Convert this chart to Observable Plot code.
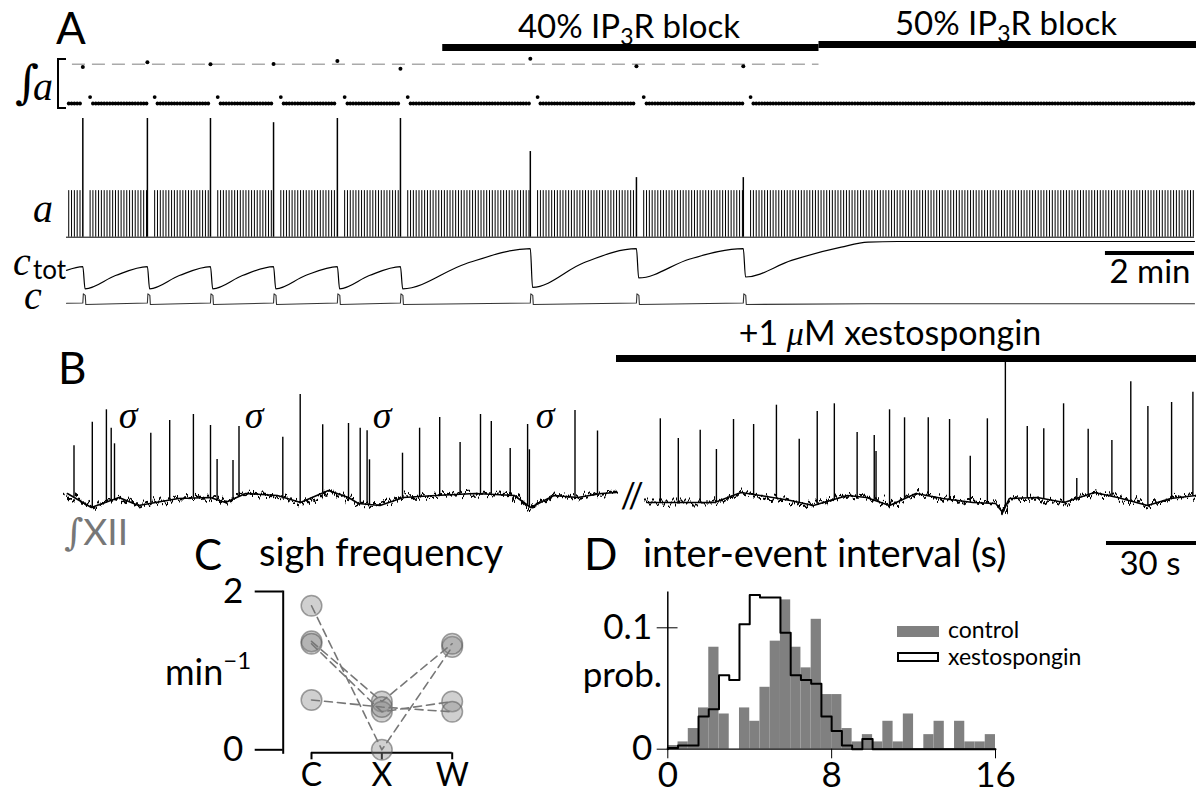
<!DOCTYPE html>
<html><head><meta charset="utf-8">
<script src="https://cdn.jsdelivr.net/npm/d3@7"></script>
<script src="https://cdn.jsdelivr.net/npm/@observablehq/plot@0.6"></script>
<style>
body{margin:0;background:white;}
#fig{position:relative;width:1196px;height:797px;background:white;font-family:Lato,"Noto Sans",sans-serif;overflow:hidden;}
#fig svg{position:absolute;}
</style></head><body><div id="fig"></div>
<svg width="1" height="1" style="position:absolute;left:0;top:0"><defs>
<filter id="jitter" filterUnits="userSpaceOnUse" x="-10" y="-10" width="1220" height="200" color-interpolation-filters="sRGB">
<feTurbulence type="fractalNoise" baseFrequency="0.35 0.03" numOctaves="3" seed="7" result="n"/>
<feDisplacementMap in="SourceGraphic" in2="n" scale="16" xChannelSelector="R" yChannelSelector="G"/>
</filter></defs></svg>
<script>
// ---------------- Panel A (model) ----------------
const durationA = 1520;                    // seconds shown
const sighTimesA = [22, 109, 194, 279, 365, 450, 625, 768, 912];
const sighAmpA   = [2.55, 2.55, 2.55, 2.46, 2.55, 2.55, 1.84, 1.28, 1.28];
const sighIntA   = [1.91, 2.03, 1.98, 1.99, 2.06, 1.87, 2.12, 1.93, 1.93];
const sighRefIntA = 1.98;
const refLineA = [8, 1014];
const eupneaPeriodA = 3.8, eupneaPauseA = 9.8, eupneaFirstA = 3;
const eupneaAmpA = 1.0, eupneaIntA = 1.0, postSighIntA = 1.16;
const blocksA = [{label: "40%", start: 507, end: 1014}, {label: "50%", start: 1014, end: 1523}];
const ctotA = [
 [0,0.39],[22,0.47],[25,0],
 [66,0.28],[109,0.47],[112,0],
 [152,0.28],[194,0.47],[197,0],
 [237,0.28],[279,0.47],[282,0],
 [322,0.28],[365,0.47],[368,0],
 [408,0.28],[450,0.47],[453,0],
 [538,0.53],[625,0.85],[628,0.03],
 [697,0.55],[768,0.85],[771,0.23],
 [840,0.63],[912,0.85],[915,0.25],
 [977,0.60],[1044,0.88],[1080,0.985],[1120,1.0],[1520,1.0]
];
const cStartA = [0, 0.12];
const cPulseA = [[0,0.14],[0.7,1.0],[3.3,0.85],[4,0]];
const cTailA = [[1080,0.07],[1520,0.07]];
const scaleBarA = {start: 1400, end: 1520};   // 2 min

// ---------------- Panel B (recording) ----------------
const spikesBLeft = [
 [2.5,0.547],[8.6,0.783],[13.3,0.907],[14.9,0.723],[16.0,0.567],[28.1,0.673],[34.4,0.80],
 [42.3,0.86],[48.0,0.75],[50.2,0.41],[55.5,0.40],[57.5,0.74],[72.1,0.633],[77.9,1.06],
 [85.4,0.757],[94.0,0.77],[97.9,0.723],[100.2,0.697],[101.0,0.407],[112.0,0.473],[117.7,0.723],
 [124.4,0.83],[131.2,0.58],[138.0,0.86],[141.6,0.79],[147.9,0.52],[153.7,0.76],[154.3,0.507],
 [169.5,0.90],[177.0,0.695]
];
const baselineBLeft = [
 [0.3,0.07],[8.3,-0.07],[17.5,0.03],[24,-0.05],[37.3,0.02],[47.9,0.03],[53,-0.02],[59.7,0.07],
 [70.3,0.05],[78,-0.02],[87.3,0.10],[94,0.03],[97.3,-0.03],[104.5,-0.05],[112.3,0.03],[123,0.05],
 [136.2,0.07],[149.3,0.05],[154.7,-0.07],[162.5,0.05],[170.4,0.03],[178.3,0.07],[183.3,0.08]
];
const spikesBRight = [
 [4.6,0.817],[10.6,0.62],[17.9,0.703],[23.3,0.51],[29.0,0.81],[35.7,0.76],[43.3,0.953],
 [50.9,0.613],[56.9,0.89],[62.6,0.967],[70.2,0.68],[75.9,0.65],[76.5,0.49],[81.0,0.907],
 [86.0,0.827],[93.9,0.827],[101.0,0.81],[107.9,0.443],[113.6,0.817],[119.6,1.383],[126.9,0.74],
 [132.4,0.717],[139.0,0.967],[143.4,0.22],[147.2,0.713],[155.1,0.60],[161.4,1.187],[167.1,0.94],
 [175.0,0.98],[182.1,1.083]
];
const baselineBRight = [
 [0.1,-0.02],[10,-0.02],[22.7,-0.02],[31.5,0.08],[37.9,0.05],[48,0],[55.6,-0.05],[67,0.05],
 [73.3,0.03],[81,-0.05],[89.8,0.07],[98.7,0.02],[108.8,-0.02],[116.4,-0.03],[118.7,-0.12],
 [120.9,0.02],[130.3,0.03],[139.2,-0.02],[149.3,0.08],[157,0.03],[167,-0.05],[174.7,0.02],[183.3,0.05]
];
const durationBLeft = 184, durationBRight = 183.3;
const xestoBarB = {start: -10, end: 183.3};
const scaleBarB = {start: 153.3, end: 183.3};   // 30 s

// ---------------- Panel C ----------------
const catsC = ["C", "X", "W"];
const sighFreqControl = [1.82, 1.37, 1.34, 0.63];
const sighFreqXesto   = [0.0, 0.61, 0.48, 0.54];
const sighFreqWash    = [1.30, 1.34, 0.61, 0.48];

// ---------------- Panel D ----------------
const binWidthD = 0.5;
const controlProbD = [0.003,0.006,0.017,0.034,0.084,0.029,0,0.034,0.023,0.051,0.089,0.123,0.084,0.067,0.107,0.045,
                      0.045,0.017,0.006,0.012,0.006,0.023,0.006,0.029,0,0.012,0.023,0,0.023,0.006,0.006,0.012];
const xestoProbD   = [0.001,0.003,0.003,0.027,0.033,0.061,0.057,0.103,0.127,0.125,0.125,0.096,0.061,0.057,0.054,0.027,
                      0.015,0.003,0,0.0085,0,0,0,0,0,0,0,0,0,0,0,0];

// ================= build =================
const fig = document.getElementById("fig");
const FONT = "Lato, 'Noto Sans', sans-serif";
function addPlot(opts, left, top) {
  const el = Plot.plot({style: {background: "transparent", overflow: "visible", fontFamily: FONT}, ...opts});
  el.style.position = "absolute"; el.style.left = left + "px"; el.style.top = top + "px";
  fig.append(el); return el;
}

// derived burst list for panel A
const sighsA = sighTimesA.map((t, i) => ({t, amp: sighAmpA[i], int: sighIntA[i]}));
const segStarts = [eupneaFirstA, ...sighTimesA.map(s => s + eupneaPauseA)];
const segEnds = [...sighTimesA.map(s => s - 1), durationA];
const eupneaA = [];
segStarts.forEach((s, k) => {
  for (let t = s, j = 0; t < segEnds[k]; t += eupneaPeriodA, j++)
    eupneaA.push({t, amp: eupneaAmpA, int: (j === 0 && k > 0) ? postSighIntA : eupneaIntA});
});
const cA = [cStartA];
sighTimesA.forEach(s => cPulseA.forEach(([dt, v]) => cA.push([s + dt, v])));
cTailA.forEach(p => cA.push(p));

const xA = {domain: [0, durationA], axis: null};
const baseA = {width: 1196, marginLeft: 66, marginRight: 2, x: xA};
const noY = d => ({domain: d, axis: null});

// block bars
addPlot({...baseA, height: 7, marginTop: 0, marginBottom: 0,
  marks: [Plot.rect([blocksA[0]], {x1: "start", x2: "end", fill: "black"})]}, 0, 44);
addPlot({...baseA, height: 7, marginTop: 0, marginBottom: 0,
  marks: [Plot.rect([blocksA[1]], {x1: "start", x2: "end", fill: "black"})]}, 0, 41);

// integrated a
addPlot({...baseA, height: 65, marginTop: 13, marginBottom: 12, y: noY([1, 2]),
  marks: [
    Plot.ruleY([sighRefIntA], {x1: refLineA[0], x2: refLineA[1], stroke: "#aaa", strokeWidth: 1.5, strokeDasharray: "13,7"}),
    Plot.dot(eupneaA, {x: "t", y: "int", r: 1.9, fill: "black", stroke: "none"}),
    Plot.dot(sighsA, {x: "t", y: "int", r: 2, fill: "black", stroke: "none"})
  ]}, 0, 50);

// activity a
addPlot({...baseA, height: 130, marginTop: 8, marginBottom: 3.3, y: noY([0, 2.55]),
  marks: [
    Plot.ruleY([0], {strokeWidth: 1}),
    Plot.ruleX(eupneaA, {x: "t", y1: 0, y2: "amp", strokeWidth: 1}),
    Plot.ruleX(sighsA, {x: "t", y1: 0, y2: "amp", strokeWidth: 1.5})
  ]}, 0, 110);

// c_tot
addPlot({...baseA, height: 56, marginTop: 3, marginBottom: 5.7, y: noY([0, 1]),
  marks: [Plot.line(ctotA, {x: d => d[0], y: d => d[1], curve: "monotone-x", strokeWidth: 1.2})]}, 0, 238);

// c
addPlot({...baseA, height: 20, marginTop: 5.3, marginBottom: 4, y: noY([0, 1]),
  marks: [Plot.line(cA, {x: d => d[0], y: d => d[1], stroke: "#333", strokeWidth: 1.1})]}, 0, 288);

// 2 min scale bar
addPlot({...baseA, height: 4, marginTop: 0, marginBottom: 0,
  marks: [Plot.rect([scaleBarA], {x1: "start", x2: "end", fill: "black"})]}, 0, 251);

// ---------- panel B ----------
function bTrace(spikes, baseline, left, width, dom) {
  const bl = d3.scaleLinear().domain(baseline.map(d => d[0])).range(baseline.map(d => d[1]));
  const el = addPlot({width, height: 175, marginLeft: left, marginRight: (left === 66 ? 2 : 0), marginTop: 0, marginBottom: 0,
    x: {domain: [0, dom], axis: null}, y: {domain: [0, 1], range: [150, 50], axis: null},
    marks: [
      Plot.line(baseline, {x: d => d[0], y: d => d[1], stroke: "black", strokeWidth: 1.6}),
      Plot.line(baseline, {x: d => d[0], y: d => d[1], stroke: "black", strokeWidth: 2.2}),
      Plot.ruleX(spikes, {x: d => d[0], y1: d => bl(d[0]), y2: d => d[1], strokeWidth: 1.4})
    ]}, 0, 350);
  const lines = el.querySelectorAll('g[aria-label="line"]');
  if (lines.length) lines[lines.length - 1].setAttribute("filter", "url(#jitter)");
}
bTrace(spikesBLeft, baselineBLeft, 66, 620, durationBLeft);
bTrace(spikesBRight, baselineBRight, 646, 1196, durationBRight);
const baseBR = {width: 1196, marginLeft: 646, marginRight: 0, x: {domain: [0, durationBRight], axis: null}};
addPlot({...baseBR, height: 7, marginTop: 0, marginBottom: 0,
  marks: [Plot.rect([xestoBarB], {x1: "start", x2: "end", fill: "black"})]}, 0, 355);
addPlot({...baseBR, height: 4, marginTop: 0, marginBottom: 0,
  marks: [Plot.rect([scaleBarB], {x1: "start", x2: "end", fill: "black"})]}, 0, 541);

// ---------- panel C ----------
const longC = [];
sighFreqControl.forEach((v, s) => {
  longC.push({s, i: 0, v}, {s, i: 1, v: sighFreqXesto[s]}, {s, i: 2, v: sighFreqWash[s]});
});
addPlot({width: 330, height: 210, marginLeft: 132.7, marginRight: 28.3, marginTop: 11, marginBottom: 37.7,
  x: {domain: [0, 2], range: [161, 301.7]}, y: {domain: [0, 2], range: [169.3, 11]},
  marks: [
    Plot.frame({anchor: "left", strokeWidth: 2}),
    Plot.axisY({ticks: [0, 2], tickFormat: d => String(d), tickSize: 28, tickPadding: 12, fontSize: 35, label: null, strokeWidth: 2}),
    Plot.ruleY([0], {x1: 0, x2: 2, dy: 3, strokeWidth: 2}),
    Plot.axisX({ticks: [0, 1, 2], tickFormat: i => catsC[i], tickSize: 7, tickPadding: 3, fontSize: 32, label: null, strokeWidth: 2}),
    Plot.dot(longC, {x: "i", y: "v", r: 10.3, fill: "#8a8a8a", fillOpacity: 0.4, stroke: "#555", strokeOpacity: 0.55, strokeWidth: 1.5}),
    Plot.line(longC, {x: "i", y: "v", z: "s", stroke: "#777", strokeWidth: 1.6, strokeDasharray: "8,5"})
  ]}, 150, 580);

// ---------- panel D ----------
const controlBins = controlProbD.map((p, k) => ({x1: k * binWidthD, x2: (k + 1) * binWidthD, p}));
const xestoStep = xestoProbD.map((p, k) => ({x: k * binWidthD, p}));
xestoStep.unshift({x: 0, p: 0});
xestoStep.push({x: xestoProbD.length * binWidthD, p: 0});
addPlot({width: 480, height: 210, marginLeft: 107.3, marginRight: 45, marginTop: 11.7, marginBottom: 41.3,
  x: {domain: [0, 16]}, y: {domain: [0, 0.1], range: [168.7, 47.3]},
  marks: [
    Plot.rectY(controlBins, {x1: "x1", x2: "x2", y: "p", fill: "#808080", inset: 0}),
    Plot.line(xestoStep, {x: "x", y: "p", curve: "step-after", stroke: "black", strokeWidth: 2}),
    Plot.frame({anchor: "left", strokeWidth: 1.5}),
    Plot.ruleY([0], {strokeWidth: 1.2}),
    Plot.ruleY([0.1], {x1: 0, x2: 0.5, strokeWidth: 1}),
    Plot.axisY({ticks: [0, 0.1], tickFormat: d => d === 0 ? "0" : "0.1", tickSize: 10.6, tickPadding: 5, fontSize: 35, label: null}),
    Plot.axisX({ticks: [0, 8, 16], tickFormat: d => String(d), tickSize: 9.6, tickPadding: 3, fontSize: 35, label: null})
  ]}, 560, 580);

// ---------- text overlay ----------
const SER = "font-family=\"Liberation Serif\" font-style=\"italic\"";
const ov = document.createElementNS("http://www.w3.org/2000/svg", "svg");
ov.setAttribute("width", 1196); ov.setAttribute("height", 797);
ov.style.left = "0px"; ov.style.top = "0px"; ov.style.pointerEvents = "none";
ov.setAttribute("font-family", "Lato, 'Noto Sans', sans-serif");
const sigmaX = [128, 254, 382, 545];
ov.innerHTML = `
<text x="56" y="44" font-size="44">A</text>
<text x="629" y="38" text-anchor="middle" font-size="33">40% IP<tspan font-size="23" dy="7">3</tspan><tspan dy="-7">R block</tspan></text>
<text x="1006" y="35" text-anchor="middle" font-size="33">50% IP<tspan font-size="23" dy="7">3</tspan><tspan dy="-7">R block</tspan></text>
<text x="15" y="98" font-size="46" font-family="DejaVu Serif" font-style="italic">∫</text>
<text x="33" y="100" font-size="40" ${SER}>a</text>
<path d="M66 59 H58 V108 H66" stroke="black" stroke-width="2" fill="none"/>
<text x="33" y="222" font-size="40" ${SER}>a</text>
<text x="13" y="275" font-size="40" ${SER}>c</text>
<text x="33" y="279" font-size="26">tot</text>
<text x="24" y="309" font-size="40" ${SER}>c</text>
<text x="1150" y="283" text-anchor="middle" font-size="33">2 min</text>
<text x="58" y="384" font-size="44">B</text>
<text x="890" y="345" text-anchor="middle" font-size="34">+1 <tspan ${SER}>μ</tspan>M xestospongin</text>
${sigmaX.map(x => `<text x="${x}" y="428" text-anchor="middle" font-size="38" ${SER}>σ</text>`).join("")}
<text x="632" y="508" text-anchor="middle" font-size="34">//</text>
<text x="64" y="545" font-size="37" fill="#777"><tspan font-family="DejaVu Serif" font-style="italic">∫</tspan>XII</text>
<text x="1150" y="575" text-anchor="middle" font-size="33">30 s</text>
<text x="194" y="570" font-size="42">C</text>
<text x="259" y="566" font-size="38">sigh frequency</text>
<text x="165" y="685" font-size="36">min<tspan font-size="24" dy="-16">−1</tspan></text>
<text x="584" y="570" font-size="44">D</text>
<text x="643" y="567" font-size="38">inter-event interval (s)</text>
<text x="662" y="687" text-anchor="end" font-size="35">prob.</text>
<rect x="897" y="626" width="42" height="11" fill="#808080"/>
<rect x="898" y="653" width="40" height="8" fill="white" stroke="black" stroke-width="2"/>
<text x="948" y="638" font-size="23">control</text>
<text x="948" y="665" font-size="23">xestospongin</text>
`;
fig.append(ov);
</script></body></html>
